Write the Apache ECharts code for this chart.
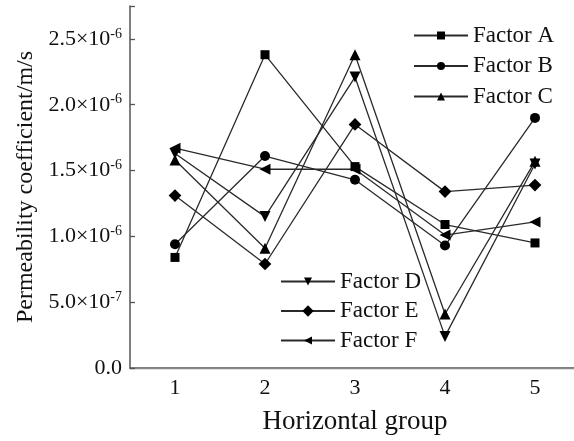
<!DOCTYPE html>
<html>
<head>
<meta charset="utf-8">
<script src="https://cdn.jsdelivr.net/npm/echarts@6/dist/echarts.min.js"></script>
<style>html,body{margin:0;padding:0;background:#fff;}#c{width:574px;height:441px;}</style>
</head>
<body>
<div id="c"></div>
<script>
var categories = ['1', '2', '3', '4', '5'];
var factorA = [0.84e-6, 2.38e-6, 1.53e-6, 1.09e-6, 0.95e-6];
var factorB = [0.94e-6, 1.61e-6, 1.43e-6, 0.93e-6, 1.90e-6];
var factorC = [1.58e-6, 0.91e-6, 2.38e-6, 0.41e-6, 1.57e-6];
var factorD = [1.63e-6, 1.15e-6, 2.21e-6, 0.24e-6, 1.55e-6];
var factorE = [1.31e-6, 0.79e-6, 1.85e-6, 1.34e-6, 1.39e-6];
var factorF = [1.67e-6, 1.51e-6, 1.51e-6, 1.01e-6, 1.11e-6];
var seriesNames = ['Factor A', 'Factor B', 'Factor C', 'Factor D', 'Factor E', 'Factor F'];
var yTickValues = [0, 0.5e-6, 1.0e-6, 1.5e-6, 2.0e-6, 2.5e-6];

var FONT = 'Liberation Serif';
var chart = echarts.init(document.getElementById('c'), null, {renderer: 'canvas'});

function fmtY(v) {
  var match = null;
  for (var i = 0; i < yTickValues.length; i++) {
    if (Math.abs(yTickValues[i] - v) < 1e-12) match = yTickValues[i];
  }
  if (match === null) return '';
  if (match === 0) return '{b|0.0}';
  var exp = Math.floor(Math.log10(match) + 1e-9);
  var man = match / Math.pow(10, exp);
  return '{b|' + man.toFixed(1) + '×10}{s|' + exp + '}';
}

function mkSeries(name, data, symbol, rot, size) {
  return {
    name: name, type: 'line', data: data,
    symbol: symbol, symbolSize: size, symbolRotate: rot,
    lineStyle: {color: '#2a2a2a', width: 1.3},
    itemStyle: {color: '#000', borderWidth: 0},
    emphasis: {disabled: true},
    animation: false
  };
}

var legendText = {fontFamily: FONT, fontSize: 23, color: '#111'};

chart.setOption({
  backgroundColor: '#fff',
  animation: false,
  grid: {left: 130, top: 6, right: -6, bottom: 73, containLabel: false, outerBoundsMode: 'none'},
  legend: [
    {data: seriesNames.slice(0, 3), orient: 'vertical', left: 413, top: 24, padding: 0,
     itemWidth: 54, itemHeight: 10, itemGap: 7.5, textStyle: legendText, selectedMode: false},
    {data: seriesNames.slice(3, 6), orient: 'vertical', left: 280, top: 270, padding: 0,
     itemWidth: 54, itemHeight: 10, itemGap: 6.5, textStyle: legendText, selectedMode: false}
  ],
  xAxis: [
    {type: 'category', data: categories, boundaryGap: true, position: 'bottom',
     name: 'Horizontal group', nameLocation: 'middle', nameGap: 40,
     nameTextStyle: {fontFamily: FONT, fontSize: 27, color: '#111'},
     axisLine: {lineStyle: {color: '#555', width: 1.5}},
     axisTick: {alignWithLabel: true, inside: true, length: 5, lineStyle: {color: '#555', width: 1.3}},
     axisLabel: {fontFamily: FONT, fontSize: 22, color: '#111', margin: 9},
     splitLine: {show: false}},
    {type: 'category', data: categories, boundaryGap: true, position: 'top',
     axisLine: {lineStyle: {color: '#888', width: 1.3}},
     axisTick: {alignWithLabel: true, inside: true, length: 5, lineStyle: {color: '#666', width: 1.3}},
     axisLabel: {show: false}, splitLine: {show: false}}
  ],
  yAxis: [
    {type: 'value', min: 0, max: 2.75e-6, interval: 0.5e-6, position: 'left',
     name: 'Permeability coefficient/m/s', nameLocation: 'middle', nameGap: 91,
     nameTextStyle: {fontFamily: FONT, fontSize: 24, color: '#111'},
     axisLine: {show: true, lineStyle: {color: '#555', width: 1.5}},
     axisTick: {show: true, inside: true, length: 5, lineStyle: {color: '#555', width: 1.3}},
     axisLabel: {formatter: fmtY, margin: 8, fontFamily: FONT, color: '#111',
       rich: {
         b: {fontFamily: FONT, fontSize: 22, color: '#111'},
         s: {fontFamily: FONT, fontSize: 14, color: '#111', verticalAlign: 'top', padding: [0, 0, 10, 0]}
       }},
     splitLine: {show: false}},
    {type: 'value', min: 0, max: 2.75e-6, interval: 0.5e-6, position: 'right',
     axisLine: {show: true, lineStyle: {color: '#555', width: 1.5}},
     axisTick: {show: true, inside: true, length: 6, lineStyle: {color: '#666', width: 1.3}},
     axisLabel: {show: false}, splitLine: {show: false}}
  ],
  series: [
    mkSeries(seriesNames[0], factorA, 'rect', 0, 9),
    mkSeries(seriesNames[1], factorB, 'circle', 0, 10),
    mkSeries(seriesNames[2], factorC, 'triangle', 0, 11),
    mkSeries(seriesNames[3], factorD, 'triangle', 180, 11),
    mkSeries(seriesNames[4], factorE, 'rect', 45, 9),
    mkSeries(seriesNames[5], factorF, 'triangle', 90, 11)
  ]
});
</script>
</body>
</html>
